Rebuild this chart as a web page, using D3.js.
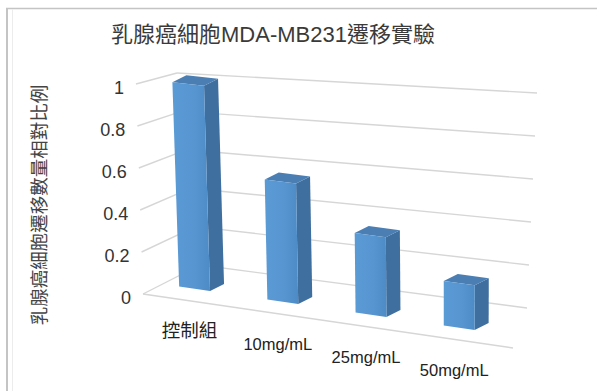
<!DOCTYPE html>
<html>
<head>
<meta charset="utf-8">
<script src="https://cdn.jsdelivr.net/npm/d3@7/dist/d3.min.js"></script>
<style>
  html, body { margin: 0; padding: 0; background: #ffffff; }
  svg { display: block; }
  text { font-family: "Liberation Sans", Arial, "Noto Sans CJK TC", sans-serif; }
</style>
</head>
<body>
<script>
// ---- data ----
const title = "乳腺癌細胞MDA-MB231遷移實驗";
const yAxisTitle = "乳腺癌細胞遷移數量相對比例";
const categories = ["控制組", "10mg/mL", "25mg/mL", "50mg/mL"];
const values = [1, 0.58, 0.38, 0.21];
const yTicks = [0, 0.2, 0.4, 0.6, 0.8, 1];
const yTickLabels = ["0", "0.2", "0.4", "0.6", "0.8", "1"];

// ---- layout ----
const W = 597, H = 391;
const svg = d3.select("body").append("svg").attr("width", W).attr("height", H);

// frame
svg.append("line").attr("x1", 6).attr("x2", W).attr("y1", 8.5).attr("y2", 8.5)
  .attr("stroke", "#c4c4c4").attr("stroke-width", 1.6);
svg.append("line").attr("x1", 7).attr("x2", 7).attr("y1", 8).attr("y2", H)
  .attr("stroke", "#c4c4c4").attr("stroke-width", 2);
svg.append("line").attr("x1", 12.5).attr("x2", 12.5).attr("y1", 9).attr("y2", H)
  .attr("stroke", "#ececec").attr("stroke-width", 1);

// scales
const y = d3.scaleLinear().domain([0, 1]).range([0, 1]);
const xBand = d3.scaleBand().domain(categories).range([152.7, 501.1])
  .paddingInner(0.65).paddingOuter(0.3);

// wall box projection (trilinear blend of projected corners), X,Y,Z in [0,1], Z=1 back
const F00 = [143, 294], F10 = [513, 348], F01 = [136, 84], F11 = [506, 130];
const B00 = [200, 265], B10 = [527, 308], B01 = [177, 73], B11 = [537, 93];
function wallP(X, Y, Z) {
  const f = [0, 1].map(i => (1 - X) * (1 - Y) * F00[i] + X * (1 - Y) * F10[i] + (1 - X) * Y * F01[i] + X * Y * F11[i]);
  const b = [0, 1].map(i => (1 - X) * (1 - Y) * B00[i] + X * (1 - Y) * B10[i] + (1 - X) * Y * B01[i] + X * Y * B11[i]);
  return [(1 - Z) * f[0] + Z * b[0], (1 - Z) * f[1] + Z * b[1]];
}

// bar projection: x along the bar base line, v value (0..1), d bar depth (0 front, 1 back)
const depthVec = [14, -7];
function barP(x, v, d) {
  const bx = x, by = 287 + 0.147 * (x - 182);
  const k = (x - 182) / 265;
  const hx = -6.7 + 6.7 * k, hy = -204.5 - 7.5 * k;
  return [bx + y(v) * hx + d * depthVec[0], by + y(v) * hy + d * depthVec[1]];
}

const grid = svg.append("g").attr("fill", "none").attr("stroke", "#d6d6d6").attr("stroke-width", 1.4);
const line = d3.line();
yTicks.forEach(t => {
  grid.append("path").attr("d", line([wallP(0, y(t), 0), wallP(0, y(t), 1)]));
  grid.append("path").attr("d", line([wallP(0, y(t), 1), wallP(1, y(t), 1)]));
});
grid.append("path").attr("d", line([wallP(0, 0, 0), wallP(1, 0, 0)]));

// y tick labels
svg.append("g").selectAll("text").data(yTicks).join("text")
  .attr("x", t => wallP(0, y(t), 0)[0] - 12)
  .attr("y", t => wallP(0, y(t), 0)[1] + 3.5)
  .attr("dy", "0.35em")
  .attr("text-anchor", "end")
  .attr("font-size", 18)
  .attr("fill", "#333")
  .text((t, i) => yTickLabels[i]);

// bars
const defs = svg.append("defs");
const grad = defs.append("linearGradient").attr("id", "front").attr("x1", 0).attr("x2", 1).attr("y1", 0).attr("y2", 0);
grad.append("stop").attr("offset", 0).attr("stop-color", "#5a9ad5");
grad.append("stop").attr("offset", 0.6).attr("stop-color", "#5795d1");
grad.append("stop").attr("offset", 1).attr("stop-color", "#4d8bc7");

const bars = svg.append("g");
categories.forEach((c, i) => {
  const x0 = xBand(c), x1 = x0 + xBand.bandwidth(), v = values[i];
  const g = bars.append("g");
  const poly = pts => "M" + pts.map(p => p.join(",")).join("L") + "Z";
  g.append("path").attr("d", poly([barP(x1, 0, 0), barP(x1, 0, 1), barP(x1, v, 1), barP(x1, v, 0)]))
    .attr("fill", "#3f6f9f");
  g.append("path").attr("d", poly([barP(x0, v, 0), barP(x1, v, 0), barP(x1, v, 1), barP(x0, v, 1)]))
    .attr("fill", "#4b7eb2");
  g.append("path").attr("d", poly([barP(x0, 0, 0), barP(x1, 0, 0), barP(x1, v, 0), barP(x0, v, 0)]))
    .attr("fill", "url(#front)");
});

// category labels
const isCJK = s => /[\u3400-\u9fff]/.test(s);
svg.append("g").selectAll("text").data(categories).join("text")
  .attr("x", c => barP(xBand(c) + xBand.bandwidth() / 2, 0, 0)[0] - 5)
  .attr("y", c => barP(xBand(c) + xBand.bandwidth() / 2, 0, 0)[1] + 42)
  .attr("dy", "0.35em")
  .attr("text-anchor", "middle")
  .attr("font-size", c => isCJK(c) ? 18.5 : 16.5)
  .attr("fill", "#222")
  .text(c => c);

// title
svg.append("text").attr("x", 273).attr("y", 42).attr("text-anchor", "middle")
  .attr("font-size", 22).attr("fill", "#3a3a3a").text(title);

// y axis title
svg.append("text").attr("transform", "translate(40,205) rotate(-90)")
  .attr("text-anchor", "middle").attr("dy", "0.35em")
  .attr("font-size", 18.5).attr("fill", "#444").text(yAxisTitle);
</script>
</body>
</html>
